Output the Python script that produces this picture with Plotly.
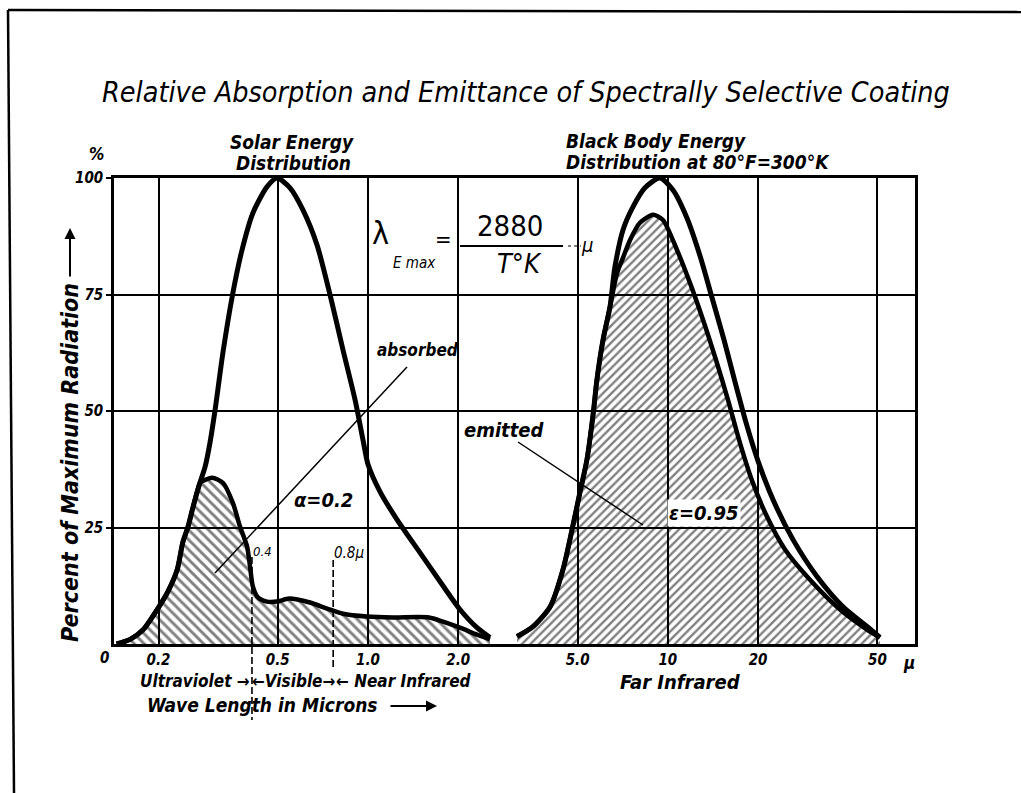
import math
import plotly.graph_objects as go

# ---------------- data ----------------
# Solar energy distribution (% of maximum) vs wavelength (microns)
solar_wl = [0.145, 0.161, 0.178, 0.198, 0.214, 0.231, 0.241, 0.251, 0.261, 0.275,
            0.286, 0.297, 0.309, 0.328, 0.354, 0.380, 0.413, 0.460, 0.497, 0.549,
            0.607, 0.676, 0.747, 0.825, 0.905, 0.962, 1.000, 1.096, 1.249, 1.490,
            1.778, 2.026, 2.309, 2.551]
solar_pct = [0, 1.0, 3.1, 7.4, 11.0, 16.0, 21.8, 25.2, 29.5, 34.6,
             38.0, 43.2, 50.3, 62.5, 75.3, 84.6, 92.5, 98.1, 100, 97.9,
             93.1, 85.6, 74.9, 63.1, 52.4, 43.8, 38.5, 32.7, 26.7, 19.6,
             12.5, 7.4, 3.5, 1.4]

# Solar energy absorbed by the coating
absorbed_wl = [0.145, 0.161, 0.178, 0.198, 0.214, 0.231, 0.241, 0.251, 0.261, 0.275,
               0.281, 0.302, 0.328, 0.354, 0.374, 0.395, 0.404, 0.413, 0.429, 0.460,
               0.497, 0.545, 0.640, 0.730, 0.825, 0.992, 1.211, 1.597, 1.778, 2.026,
               2.309, 2.551]
absorbed_pct = [0, 1.0, 3.1, 7.4, 11.0, 16.0, 21.8, 25.2, 29.5, 34.6,
                35.0, 35.7, 34.6, 30.3, 25.2, 20.9, 16.6, 12.3, 10.0, 9.1,
                9.1, 9.75, 8.9, 7.6, 6.5, 5.9, 5.7, 5.7, 4.8, 3.5,
                2.0, 1.0]

# Black body energy distribution at 300 K
bb_wl = [3.14, 3.55, 4.05, 4.47, 4.79, 5.09, 5.37, 5.63, 5.80, 6.08,
         6.41, 6.66, 7.09, 7.65, 8.39, 9.41, 10.40, 11.58, 12.80, 14.04,
         15.39, 16.74, 18.23, 19.98, 22.42, 26.15, 31.44, 38.39, 46.17, 51.0]
bb_pct = [1.6, 3.75, 8.0, 16.0, 24.5, 32.5, 39.5, 49.2, 56.7, 65.3,
          72.3, 80.9, 88.9, 93.8, 97.9, 100, 97.4, 91.4, 83.3, 74.3,
          65.3, 56.3, 47.5, 39.3, 31.0, 22.4, 14.5, 8.0, 3.75, 1.4]

# Energy emitted by the coating
emitted_wl = [3.14, 3.55, 4.05, 4.47, 4.79, 5.09, 5.37, 5.63, 5.80, 6.08,
              6.41, 6.77, 7.09, 7.48, 8.07, 8.92, 9.63, 10.72, 11.85, 13.10,
              14.47, 15.87, 17.28, 18.94, 21.25, 24.59, 29.79, 37.52, 46.17, 51.0]
emitted_pct = [1.6, 3.75, 8.0, 16.0, 24.5, 32.5, 39.5, 49.2, 56.7, 65.3,
               72.3, 79.6, 82.9, 86.7, 90.4, 92.1, 91.0, 84.6, 77.5, 69.6,
               61.0, 52.4, 43.8, 35.7, 27.8, 20.3, 13.8, 7.4, 3.1, 1.4]

x_tick_vals = [0.2, 0.5, 1, 2, 5, 10, 20, 50]
x_tick_text = ["0.2", "0.5", "1.0", "2.0", "5.0", "10", "20", "50"]
y_tick_vals = [25, 50, 75, 100]
y_tick_text = ["25", "50", "75", "100"]

# band boundaries as drawn (dashed lines)
uv_visible_edge = 0.41
visible_nir_edge = 0.765

# ---------------- layout geometry ----------------
W, H = 1021, 793
PL, PR, PT, PB = 114, 915, 178, 644
X_RANGE = [-0.8474, 1.8244]

FONT = "DejaVu Sans Condensed, DejaVu Sans, sans-serif"


def px(x):
    return (x - PL) / (PR - PL)


def py(y):
    return (PB - y) / (PB - PT)


def wl_paper(v):
    # position of a wavelength on the log x axis, as a paper fraction
    return (math.log10(v) - X_RANGE[0]) / (X_RANGE[1] - X_RANGE[0])


fig = go.Figure()

fig.add_trace(go.Scatter(
    x=absorbed_wl, y=absorbed_pct, mode="lines",
    line=dict(color="black", width=4.5, shape="spline", smoothing=0.7),
    fill="tozeroy", fillcolor="rgba(0,0,0,0)",
    fillpattern=dict(shape="\\", fgcolor="black", bgcolor="rgba(0,0,0,0)",
                     size=7, solidity=0.42, fillmode="overlay"),
    hoverinfo="skip", showlegend=False))

fig.add_trace(go.Scatter(
    x=solar_wl, y=solar_pct, mode="lines",
    line=dict(color="black", width=5, shape="spline", smoothing=0.7),
    hoverinfo="skip", showlegend=False))

fig.add_trace(go.Scatter(
    x=emitted_wl, y=emitted_pct, mode="lines",
    line=dict(color="black", width=4.5, shape="spline", smoothing=0.7),
    fill="tozeroy", fillcolor="rgba(0,0,0,0)",
    fillpattern=dict(shape="/", fgcolor="black", bgcolor="rgba(0,0,0,0)",
                     size=6, solidity=0.4, fillmode="overlay"),
    hoverinfo="skip", showlegend=False))

fig.add_trace(go.Scatter(
    x=bb_wl, y=bb_pct, mode="lines",
    line=dict(color="black", width=5, shape="spline", smoothing=0.7),
    hoverinfo="skip", showlegend=False))

shapes = []
# frame lines of the sheet
shapes.append(dict(type="line", xref="paper", yref="paper",
                   x0=px(8), y0=py(10), x1=px(1021), y1=py(12),
                   line=dict(color="black", width=2.5)))
shapes.append(dict(type="line", xref="paper", yref="paper",
                   x0=px(8), y0=py(10), x1=px(14), y1=py(793),
                   line=dict(color="black", width=2.5)))
# band boundary dashed lines
shapes.append(dict(type="line", xref="paper", yref="paper",
                   x0=wl_paper(uv_visible_edge), x1=wl_paper(uv_visible_edge),
                   y0=py(557), y1=py(720),
                   line=dict(color="black", width=1.6, dash="7px,3px")))
shapes.append(dict(type="line", xref="paper", yref="paper",
                   x0=wl_paper(visible_nir_edge), x1=wl_paper(visible_nir_edge),
                   y0=py(560), y1=py(670),
                   line=dict(color="black", width=1.6, dash="7px,3px")))
# pointer lines
shapes.append(dict(type="line", xref="paper", yref="paper",
                   x0=px(407), y0=py(367), x1=px(215), y1=py(573),
                   line=dict(color="black", width=1.5)))
shapes.append(dict(type="line", xref="paper", yref="paper",
                   x0=px(518), y0=py(442), x1=px(643), y1=py(525),
                   line=dict(color="black", width=1.5)))
# fraction bar and dotted leader of the formula
shapes.append(dict(type="line", xref="paper", yref="paper",
                   x0=px(460), y0=py(246), x1=px(563), y1=py(246),
                   line=dict(color="black", width=2)))
shapes.append(dict(type="line", xref="paper", yref="paper",
                   x0=px(568), y0=py(246), x1=px(581), y1=py(246),
                   line=dict(color="black", width=1.2, dash="dot")))


def ann(text, x, y, size, xanchor="center", style="italic", weight="normal",
        bg=None, angle=0):
    d = dict(text=text, x=px(x), y=py(y), xref="paper", yref="paper",
             showarrow=False, xanchor=xanchor, yanchor="middle",
             textangle=angle,
             font=dict(family=FONT, size=size, color="black", style=style,
                       weight=weight))
    if bg:
        d["bgcolor"] = bg
        d["borderpad"] = 1
    return d


def arrow(x_tip, y_tip, dx, dy):
    # plain arrow drawn by an annotation; tail is offset (dx, dy) px from tip
    return dict(text="", x=px(x_tip), y=py(y_tip), xref="paper", yref="paper",
                showarrow=True, ax=dx, ay=dy, arrowhead=2, arrowsize=1.1,
                arrowwidth=2, arrowcolor="black", standoff=0, startstandoff=0)


annotations = [
    ann("Relative Absorption and Emittance of Spectrally Selective Coating", 526, 92, 28.5),
    ann("Solar Energy", 292, 142, 19, weight="bold"),
    ann("Distribution", 293, 163, 19, weight="bold"),
    ann("Black Body Energy", 564, 141, 19, xanchor="left", weight="bold"),
    ann("Distribution at 80°F=300°K", 564, 162, 19, xanchor="left", weight="bold"),
    ann("%", 96, 154, 17, weight="bold"),
    ann("0", 104, 658, 15, weight="bold"),
    ann("μ", 909, 663, 17, weight="bold"),
    ann("Percent of Maximum Radiation", 70, 463, 23, weight="bold", angle=-90),
    arrow(70, 228, 0, 50),
    # formula
    ann("λ", 380, 233, 32, style="normal"),
    ann("E max", 414, 263, 15),
    ann("=", 443, 239, 22, style="normal"),
    ann("2880", 510, 226, 29, style="normal"),
    ann("T°K", 519, 263, 27),
    ann("μ", 587, 245, 20),
    # labels in the plot
    ann("absorbed", 418, 350, 17, weight="bold"),
    ann("α=0.2", 323, 500, 20, weight="bold"),
    ann("emitted", 504, 430, 20, weight="bold"),
    ann("ε=0.95", 704, 513, 20, weight="bold", bg="white"),
    ann("0.4", 262, 551, 13),
    ann("0.8μ", 349, 553, 15),
    # band names
    ann("Ultraviolet →", 252, 681, 17, xanchor="right", weight="bold"),
    ann("←Visible→", 293, 681, 17, weight="bold"),
    ann("← Near Infrared", 334, 681, 17, xanchor="left", weight="bold"),
    ann("Far Infrared", 680, 682, 20, weight="bold"),
    ann("Wave Length in Microns", 145, 705, 19, xanchor="left", weight="bold"),
    arrow(437, 706, -48, 0),
]

fig.update_layout(
    width=W, height=H,
    margin=dict(l=PL, r=W - PR, t=PT, b=H - PB, pad=0),
    paper_bgcolor="white", plot_bgcolor="white",
    showlegend=False,
    shapes=shapes, annotations=annotations,
    xaxis=dict(type="log", range=X_RANGE, tickvals=x_tick_vals, ticktext=x_tick_text,
               showgrid=True, gridcolor="black", gridwidth=2,
               showline=True, mirror=True, linecolor="black", linewidth=2.5,
               ticks="", zeroline=False, fixedrange=True,
               tickfont=dict(family=FONT, size=15, color="black", style="italic",
                             weight="bold")),
    yaxis=dict(range=[0, 100], tickvals=y_tick_vals, ticktext=y_tick_text,
               showgrid=True, gridcolor="black", gridwidth=2,
               showline=True, mirror=True, linecolor="black", linewidth=2.5,
               ticks="outside", ticklen=5, tickcolor="black", tickwidth=2,
               zeroline=False, fixedrange=True,
               tickfont=dict(family=FONT, size=15, color="black", style="italic",
                             weight="bold")),
)

# remove the browser's default 8px page margin so the figure sits at (0, 0)
fig.write_html("out.html",
               config={"displayModeBar": False},
               post_script="document.body.style.margin='0';"
                           "document.body.style.overflow='hidden';")
